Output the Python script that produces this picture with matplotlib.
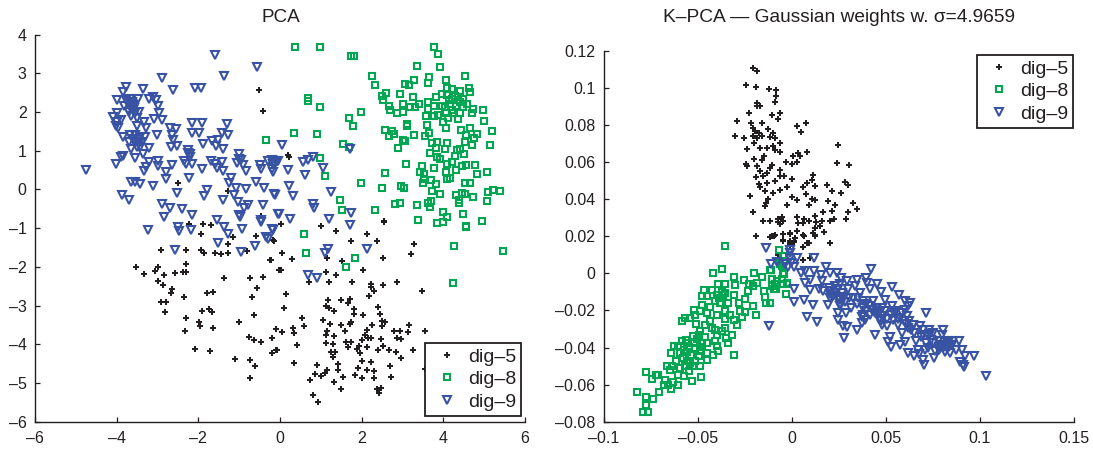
import numpy as np
import matplotlib
matplotlib.use('Agg')
import matplotlib.pyplot as plt

plt.rcParams['font.family'] = ['Liberation Sans', 'DejaVu Sans']

# PCA panel, (x, y)
pca_dig5 = np.array([
    (-3.53,-2.0),(-3.32,-2.19),(-3.06,-2.1),(-2.98,-2.0),(-2.84,-2.2),(-2.57,-2.15),(-2.98,-2.36),(-2.87,-2.47),
    (-2.64,-2.57),(-2.66,-2.68),(-2.91,-2.9),(-2.78,-2.9),(-2.82,-3.16),(-2.36,-2.79),(-2.31,-3.33),(-2.32,-3.66),
    (-2.38,-2.12),(-2.3,-2.14),(-2.29,-1.93),(-2.91,-1.56),(-2.3,-1.57),(-2.22,-.88),(-1.88,-.9),(-1.94,-1.14),
    (-1.69,-.92),(-1.93,-1.57),(-1.86,-1.63),(-1.59,-1.64),(-1.44,-1.67),(-1.28,-1.63),(-1.28,-1.42),(-1.16,-1.24),
    (-1.37,-2.28),(-1.8,-2.67),(-1.63,-2.66),(-1.9,-3.14),(-1.75,-3.1),(-1.66,-3.17),(-1.98,-3.42),(-1.95,-3.54),
    (-1.65,-3.57),(-2.08,-4.11),(-1.72,-4.17),(-1.09,-4.38),(-1.0,-3.43),(-.77,-3.81),(-.64,-3.88),(-.47,-3.94),
    (-.73,-4.41),(-.61,-4.56),(-.73,-4.87),(-.2,-4.22),(-.1,-4.14),(-.2,-3.84),(-.11,-3.6),(-.64,-3.25),
    (-.68,-2.79),(-.56,-2.55),(-.73,-2.28),(-.41,-2.26),(-.24,-1.81),(-.82,-1.59),(-.59,-1.21),(-.15,-1.33),
    (-.02,-2.07),(-.51,2.56),(-.41,2.02),(-2.51,.18),(-1.27,-.04),(-.47,-.68),(.2,.89),(.22,.84),(2.55,-.82),
    (.02,-.9),(1.0,-.95),(1.36,-1.08),(2.13,-1.16),(2.54,-.84),(2.38,-1.32),(1.74,-1.33),(-.16,-1.31),(.04,-1.64),
    (.3,-1.8),(-.22,-1.83),(3.22,-1.67),(3.28,-1.4),(2.52,-1.76),(1.16,-1.76),(1.52,-1.86),(.02,-2.07),(1.13,-2.14),
    (1.36,-2.2),(2.04,-2.09),(.72,-2.4),(1.21,-2.38),(1.77,-2.4),(2.24,-2.43),(2.53,-2.47),(2.86,-2.4),(3.47,-2.62),
    (2.24,-2.52),(2.3,-2.62),(2.17,-2.75),(.14,-2.71),(.1,-3.05),(1.18,-2.86),(1.5,-2.86),(1.71,-2.83),(1.66,-2.92),
    (1.13,-3.01),(1.19,-3.05),(1.32,-3.15),(1.8,-3.1),(1.81,-3.21),(2.03,-3.25),(2.39,-3.03),(2.46,-3.22),(.55,-3.32),
    (.58,-3.52),(1.06,-3.38),(1.23,-3.47),(1.5,-3.51),(1.71,-3.48),(1.74,-3.42),(2.26,-3.5),(2.51,-3.4),(2.57,-3.42),
    (2.51,-3.52),(-.11,-3.61),(.05,-3.69),(.31,-3.59),(.35,-3.7),(-.2,-3.84),(1.14,-3.66),(1.13,-3.75),(1.58,-3.66),
    (1.33,-3.79),(2.13,-3.64),(2.08,-3.77),(2.16,-3.85),(2.24,-3.85),(2.0,-3.9),(2.79,-3.66),(2.94,-3.66),(3.16,-3.5),
    (3.13,-3.69),(3.55,-3.66),(2.86,-3.83),(2.96,-3.86),(2.47,-3.87),(1.13,-3.97),(1.29,-4.0),(1.62,-3.93),(1.74,-3.93),
    (1.66,-4.07),(.42,-4.03),(-.08,-4.14),(-.2,-4.22),(1.94,-4.05),(1.89,-4.11),(2.14,-4.07),(2.41,-4.14),(2.53,-4.05),
    (2.68,-4.16),(2.83,-4.19),(3.25,-4.16),(1.96,-4.22),(1.25,-4.21),(1.35,-4.21),(1.31,-4.34),(2.96,-4.35),(.35,-4.48),
    (.9,-4.53),(1.43,-4.52),(2.02,-4.43),(2.22,-4.47),(2.69,-4.57),(1.92,-4.61),(2.12,-4.67),(2.31,-4.68),(1.43,-4.67),
    (1.14,-4.67),(1.1,-4.74),(.86,-4.77),(1.0,-4.82),(.73,-4.91),(1.55,-4.84),(1.84,-4.8),(2.0,-4.87),(2.29,-4.87),
    (2.73,-4.85),(3.55,-4.65),(1.33,-4.97),(1.49,-5.16),(2.37,-5.15),(2.47,-5.13),(2.42,-5.25),(.82,-5.3),(.94,-5.5),
])

pca_dig8 = np.array([
    (.37,3.69),(.97,3.69),(1.74,3.45),(1.8,3.45),(3.76,3.69),(3.87,3.51),(3.36,3.2),(3.93,3.16),(2.25,2.93),(2.33,2.7),
    (3.27,2.84),(3.66,2.9),(3.62,2.74),(4.07,2.84),(4.52,2.92),(3.06,2.72),(3.16,2.71),(2.6,2.49),(2.51,2.41),(2.53,2.31),
    (2.94,2.47),(3.25,2.38),(3.0,2.22),(2.68,2.16),(2.69,2.05),(2.87,1.98),(3.0,2.01),(3.18,2.12),(3.31,2.12),(3.4,2.2),
    (3.62,2.25),(3.81,2.38),(3.96,2.46),(4.08,2.61),(4.22,2.59),(4.41,2.54),(4.63,2.63),(4.65,2.53),(4.08,2.44),(4.2,2.35),
    (4.37,2.31),(4.16,2.22),(4.49,2.35),(4.57,2.21),(4.47,2.14),(4.73,2.08),(4.98,2.05),(4.69,1.98),(4.41,1.98),(4.24,1.97),
    (4.06,1.97),(3.88,1.92),(3.76,2.17),(3.96,2.16),(3.63,2.07),(3.58,1.9),(3.76,1.9),(4.12,1.84),(4.37,1.81),(4.0,1.75),
    (5.0,1.78),(3.12,1.69),(3.12,1.64),(3.6,1.66),(4.07,1.58),(4.43,1.55),(4.66,1.59),(5.18,1.51),(2.57,1.53),(2.75,1.5),
    (2.8,1.43),(2.66,1.37),(3.28,1.41),(3.65,1.45),(3.56,1.38),(4.55,1.41),(4.83,1.43),(4.76,1.34),(3.02,1.27),(3.07,1.25),
    (3.73,1.21),(3.84,1.23),(4.08,1.21),(4.04,1.04),(4.52,1.23),(4.69,1.16),(5.14,1.16),(2.9,1.06),(3.81,1.06),(3.68,.94),
    (4.33,1.03),(4.42,1.04),(4.51,.93),(4.29,.87),(3.84,.84),(3.93,.78),(4.22,.71),(4.08,.66),(4.45,.61),(4.55,.63),
    (4.77,.63),(3.09,.66),(3.48,.62),(3.76,.56),(4.31,.5),(4.07,.44),(3.44,.44),(3.53,.41),(5.06,.46),(4.83,.41),
    (2.56,.42),(4.16,.31),(4.08,.28),(3.53,.26),(3.71,.24),(3.81,.15),(3.49,.16),(4.54,.16),(4.65,.16),(1.99,.18),
    (2.51,.04),(2.97,.09),(3.04,.03),(3.73,-.05),(3.93,-.11),(4.3,-.13),(4.45,-.09),(4.53,-.12),(4.72,-.2),(5.09,-.06),
    (5.22,-.01),(5.39,-.04),(5.08,-.3),(4.38,-.28),(4.38,-.36),(3.69,-.31),(3.63,-.36),(3.67,-.45),(3.36,-.41),(2.94,-.34),
    (2.82,-.38),(2.33,-.53),(1.47,-.28),(1.52,-.52),(4.0,-.58),(4.47,-.64),(4.1,-.72),(4.95,-.82),(3.98,-.84),(3.84,-.86),
    (3.39,-.79),(4.55,-.95),(.68,2.37),(.68,2.28),(.98,2.13),(1.98,1.99),(1.69,1.85),(1.78,1.65),(.34,1.45),(.9,1.43),
    (1.55,1.17),(1.69,1.1),(.98,.82),(1.09,.35),(.58,-1.16),(.64,-1.64),(1.84,-1.77),(1.62,-2.0),(4.25,-1.45),(5.46,-1.6),
    (4.24,-2.42),(4.55,-.97),(-.34,1.27),(4.28,2.42),(4.14,2.3),(4.3,2.15),(4.42,2.25),(4.22,2.05),(4.35,2.4),(4.05,2.12),
])

pca_dig9 = np.array([
    (-4.76,.5),(-1.58,3.47),(-.56,3.16),(-1.38,2.94),(-2.9,2.87),(-3.78,2.65),(-3.85,2.51),(-3.35,2.6),(-2.62,2.56),
    (-2.07,2.61),(-1.93,2.62),(-4.0,2.31),(-3.22,2.34),(-3.12,2.39),(-3.04,2.31),(-3.47,2.33),(-3.0,2.15),(-2.96,1.97),
    (-3.08,1.83),(-2.9,1.79),(-4.08,1.88),(-3.98,1.98),(-3.9,1.79),(-4.02,1.64),(-3.96,1.58),(-3.84,1.36),(-3.67,2.14),
    (-3.71,2.0),(-3.63,2.27),(-3.6,2.18),(-3.76,2.31),(-3.67,2.35),(-3.82,2.16),(-3.55,1.97),(-3.45,2.0),(-3.51,1.84),
    (-3.33,1.75),(-3.49,1.64),(-3.27,1.58),(-3.67,1.4),(-3.55,1.4),(-3.43,1.36),(-3.31,1.36),(-3.02,1.42),(-3.71,1.23),
    (-3.55,1.19),(-3.39,1.23),(-3.66,1.04),(-3.43,1.1),(-3.21,1.06),(-3.35,.91),(-3.55,.82),(-3.84,.87),(-3.9,.83),
    (-4.02,.67),(-3.21,.7),(-3.27,.59),(-3.32,.48),(-2.98,.73),(-3.0,.62),(-2.65,.63),(-2.78,.44),(-2.78,.28),(-3.65,.2),
    (-3.55,.2),(-3.44,.13),(-3.1,.09),(-3.86,-.15),(-3.69,-.26),(-2.69,1.58),(-2.55,1.56),(-2.64,1.42),(-2.63,1.28),
    (-2.67,1.1),(-2.53,1.13),(-2.15,1.71),(-1.92,1.72),(-2.15,1.47),(-1.98,1.47),(-1.31,1.69),(-1.43,1.45),(-1.27,1.42),
    (-1.88,1.17),(-1.66,1.25),(-1.51,1.28),(-1.57,1.13),(-1.39,1.04),(-2.26,1.02),(-2.2,.91),(-2.34,.74),(-2.15,.67),
    (-2.31,.67),(-2.24,.31),(-1.92,.53),(-1.7,.74),(-1.59,.67),(-1.43,.72),(-1.55,.56),(-1.4,.48),(-1.06,.69),(-1.01,.91),
    (-.9,.63),(-.84,.48),(-1.2,.3),(-1.24,.18),(-1.08,.04),(-.84,.01),(-.59,.2),(-.39,.04),(-.49,.63),(-.47,.54),(-.29,.74),
    (-.16,.67),(-.04,.74),(-.16,.46),(-2.53,-.08),(-2.88,-.38),(-2.69,-.49),(-2.84,-.71),(-2.41,-.51),(-2.15,-.66),
    (-1.8,-.02),(-1.85,-.16),(-1.39,-.28),(-1.12,-.15),(-1.04,-.32),(-.78,-.39),(-.87,-.49),(-1.0,-.65),(-.98,-.72),
    (-.42,-.39),(-.14,-.12),(-.02,-.64),(-.47,-.79),(-1.55,-.79),(.06,1.16),(1.71,1.04),(.82,.83),(.57,.72),(.68,.76),
    (-.07,.74),(-.16,.67),(-.2,.54),(.2,.5),(1.06,.56),(.61,.37),(.23,.1),(.33,-.16),(-.13,-.13),(1.25,-.06),(.82,-.38),
    (.84,-.47),(-.04,-.64),(.24,-.77),(1.21,-.75),(1.74,-.6),(1.71,-.92),(-.18,-1.05),(1.18,-1.53),(1.09,-1.63),(2.14,-1.54),
    (.68,-2.2),(.9,-2.28),(-3.24,-1.04),(-2.51,-.97),(-2.47,-1.08),(-2.18,-1.05),(-2.56,-1.57),(-1.36,-.98),(-1.28,-1.16),
    (-.93,-1.01),(-1.51,-1.37),(-.96,-1.61),(-.61,-1.47),(-.35,-1.24),(-.29,-1.27),(-.19,-1.03),(-.47,-.84),
    (-3.62,2.2),(-3.58,2.1),(-3.7,2.25),(-3.6,2.05),(-3.5,1.3),(-3.45,1.2),(-3.6,1.3),(-2.2,.85),(-2.25,.95),(-1.0,.8),
    (-.95,.75),(-.1,.7),(-.2,.75),(-4.0,1.75),(-3.65,1.9),(-3.5,1.1),
])

# K-PCA panel
kpca_dig5 = np.array([
    (-.0207,.1107),(-.0186,.1094),(-.0243,.1017),(-.019,.1006),(-.0119,.0994),(-.0083,.0988),(-.0083,.0958),(-.0087,.0927),
    (-.0186,.0922),(-.0168,.0904),(-.0186,.0904),(-.0227,.0868),(-.0106,.0854),(-.0062,.0865),(-.0073,.0834),(-.0291,.0825),
    (-.0218,.0809),(-.0158,.0814),(.003,.0796),(.0076,.0814),(.0048,.0764),(-.03,.0741),(-.0254,.0732),(-.0204,.0784),
    (-.0195,.0766),(-.0204,.0739),(-.0177,.0757),(-.016,.0743),(-.0186,.073),(-.0124,.078),(-.0098,.0757),(-.0115,.0734),
    (-.0089,.073),(-.0199,.0703),(-.0062,.0703),(-.0098,.0685),(-.0239,.0673),(-.0168,.0676),(-.0133,.0676),(-.0089,.0664),
    (-.0062,.0655),(.008,.0655),(.0035,.0649),(.0005,.0631),(.0041,.0631),(.0248,.0691),(.0239,.0594),(.0303,.0583),
    (-.0199,.0617),(-.0147,.0631),(-.016,.061),(-.003,.0601),(0,.059),(.003,.0599),(-.0245,.059),(-.0239,.0581),(-.0186,.0581),
    (-.0106,.0587),(-.0115,.0569),(-.0062,.056),(-.0168,.0551),(-.0133,.0542),(-.019,.052),(-.0151,.0524),(-.0062,.0524),
    (-.0044,.0524),(.0002,.0511),(-.0092,.0497),(-.0133,.0488),(-.0177,.0483),(-.0168,.0466),(.0115,.0529),(.0106,.0506),
    (.008,.0488),(.0062,.0466),(.0121,.047),(.0186,.0475),(.0284,.0491),(.0296,.0479),(-.0027,.0465),(-.0062,.0448),
    (-.0098,.0434),(-.0142,.0447),(.0215,.0445),(.0262,.0434),(-.0222,.042),(.0076,.0431),(0,.0411),(.003,.0398),(.0106,.0402),
    (.0124,.0395),(-.0124,.0402),(-.0136,.038),(-.0142,.0362),(-.0027,.0371),(.0089,.0368),(.019,.0393),(.0324,.038),
    (.023,.0368),(.0213,.0335),(.0349,.0346),(.0298,.033),(-.0207,.0332),(.0168,.033),(.0124,.0308),(.003,.0303),(-.0053,.0305),
    (-.0071,.0291),(-.0151,.0282),(-.0115,.0282),(-.0071,.0276),(-.0048,.0282),(-.0062,.0264),(.0035,.0273),(.0066,.0291),
    (.0089,.0282),(.0062,.0273),(.016,.0282),(.0129,.0276),(.0204,.0282),(.0225,.0291),(.0287,.0296),(.0151,.0255),(.0124,.0246),
    (.0172,.0226),(.0027,.023),(-.0009,.0215),(-.0048,.021),(-.019,.0204),(-.0115,.0196),(-.0094,.0201),(.0067,.0204),(.0121,.0206),
    (-.0048,.0179),(-.0009,.0174),(.0009,.0174),(-.0009,.0156),(.0204,.0165),(.0089,.0165),(.0062,.0143),(.0059,.0075),(.0098,.0084),
    (-.0106,.0202),(-.0092,.0205),(-.0048,.0211),(-.0048,.0175),(-.0009,.0216),(.0027,.0229),(-.0009,.0166),(.0009,.0169),
    (.0018,.0193),(.0062,.0205),(.0058,.0142),(.0081,.0162),(.0115,.0216),(.0124,.0202),(.0172,.0225),(.0202,.0166),
    (.0058,.0072),(.0097,.0081),(-.0076,.0097),
])

kpca_dig8 = np.array([
    (-.0353,.015),(-.0069,.0126),(-.0044,.0094),(-.0372,.0025),(-.042,.0004),(-.0307,-.0018),(-.0199,.0004),(-.0156,-.0018),
    (-.0112,.0018),(-.0053,.004),(-.0062,.0058),(-.0044,-.0005),(-.0106,-.0029),(-.008,-.0041),(-.0106,-.0068),(-.0083,-.0086),
    (-.005,-.0032),(-.0027,-.005),(-.0032,-.011),(-.0147,-.0095),(-.0142,-.0126),(-.0138,-.0162),(-.0115,-.0162),(-.0254,-.0036),
    (-.023,-.0059),(-.0234,-.0095),(-.0186,-.005),(-.0204,-.0068),(-.0301,-.0065),(-.0355,-.0059),(-.039,-.0059),(-.0426,-.009),
    (-.0465,-.0092),(-.0477,-.0123),(-.0452,-.0123),(-.0355,-.0104),(-.031,-.0114),(-.0399,-.0114),(-.0378,-.0132),(-.0408,-.015),
    (-.0381,-.0159),(-.0337,-.0162),(-.0282,-.0159),(-.0248,-.0137),(-.0209,-.0177),(-.0191,-.0223),(-.0353,-.0204),(-.0434,-.018),
    (-.0479,-.0173),(-.0518,-.0195),(-.0488,-.0204),(-.0452,-.0213),(-.0399,-.0227),(-.0328,-.0222),(-.0275,-.0204),(-.0248,-.0209),
    (-.0266,-.0234),(-.031,-.0249),(-.0355,-.0245),(-.0585,-.0258),(-.0567,-.024),(-.0541,-.024),(-.0514,-.0227),(-.0509,-.0272),
    (-.0461,-.0276),(-.0434,-.0258),(-.0293,-.0276),(-.0488,-.0309),(-.0426,-.0297),(-.0408,-.0303),(-.0355,-.0294),(-.0372,-.0312),
    (-.0399,-.033),(-.0316,-.033),(-.0351,-.0348),(-.0337,-.0375),(-.0305,-.0438),(-.0527,-.0339),(-.0496,-.033),(-.0585,-.0366),
    (-.0626,-.0389),(-.0603,-.0393),(-.0559,-.0375),(-.0518,-.0378),(-.0479,-.0375),(-.0452,-.0378),(-.0408,-.0366),(-.0399,-.0393),
    (-.0642,-.0429),(-.0594,-.0429),(-.0559,-.0425),(-.0514,-.0402),(-.0488,-.042),(-.0452,-.0429),(-.042,-.0438),(-.0394,-.042),
    (-.0496,-.0447),(-.0452,-.0465),(-.0514,-.0474),(-.058,-.0456),(-.0541,-.0483),(-.0488,-.0501),(-.0594,-.051),(-.0567,-.0501),
    (-.0665,-.0497),(-.0638,-.0501),(-.0647,-.0523),(-.0603,-.0546),(-.0573,-.0555),(-.0544,-.0528),(-.0482,-.0559),(-.0528,-.0582),
    (-.0605,-.0604),(-.0633,-.0587),(-.0656,-.0604),(-.0679,-.06),(-.0674,-.0573),(-.0642,-.0623),(-.0709,-.055),(-.0723,-.055),
    (-.0741,-.0571),(-.0773,-.0532),(-.0707,-.0641),(-.0736,-.0676),(-.0777,-.0668),(-.0823,-.0641),(-.0777,-.0708),(-.0791,-.0746),
    (-.0766,-.0746),(-.0048,.0094),(-.0041,.0067),(-.0062,.0049),(-.0115,.0018),(-.0048,-.0005),(-.0027,-.0055),(-.0103,-.0029),
    (-.0088,-.0059),(-.0097,-.0086),(-.0048,-.0059),(-.0565,-.036),(-.0545,-.0395),(-.0505,-.0355),(-.0575,-.0415),(-.0535,-.044),
    (-.0462,-.0345),(-.0475,-.0398),(-.0555,-.0475),(-.0525,-.0498),(-.0615,-.0475),(-.0385,-.0135),(-.0365,-.0115),(-.037,-.0098),
])

kpca_dig9 = np.array([
    (-.0138,.0135),(-.0012,.0124),(-.0009,.0108),(-.0009,.0085),(-.0005,.0058),(-.0018,.0036),(.0009,.0036),(-.0035,.0049),
    (.0027,.0085),(.012,.0085),(-.008,.0063),(-.0111,.0049),(.018,.0036),(.0423,.0025),(.005,0),(.0071,.0013),(.012,.0013),
    (.0154,-.0011),(.0203,0),(.0239,0),(.0262,-.0023),(.0292,-.0041),(.0345,-.0036),(.0395,-.0023),(.0451,-.0059),(.0533,-.0072),
    (.0071,-.005),(.0097,-.0038),(.0097,-.009),(.0159,-.0041),(.0147,-.0083),(.0168,-.0095),(.0009,-.0086),(.0195,-.0077),
    (.023,-.0068),(.0257,-.0059),(.0203,-.0113),(.023,-.0104),(.0265,-.0104),(.0301,-.0086),(.0336,-.0068),(.0363,-.0104),
    (.0398,-.005),(.0416,-.0086),(.0472,-.0101),(.057,-.0119),(.0009,-.0155),(.0067,-.0141),(.0115,-.0168),(.008,-.0234),
    (.0136,-.0261),(-.012,-.0285),(.0191,-.0168),(.0257,-.0141),(.0257,-.0177),(.0288,-.0213),(.0313,-.0186),(.0248,-.0216),
    (.0248,-.0249),(.0274,-.0285),(.0295,-.0288),(.0278,-.0348),(.0345,-.0303),(.0327,-.0132),(.038,-.015),(.0433,-.015),
    (.0495,-.0141),(.0531,-.0177),(.038,-.0186),(.038,-.0222),(.0389,-.0249),(.0372,-.0267),(.0451,-.0186),(.0478,-.0186),
    (.046,-.0222),(.0487,-.0231),(.0478,-.0276),(.0504,-.0285),(.0442,-.0333),(.0602,-.015),(.0628,-.0159),(.0602,-.0195),
    (.0611,-.0231),(.054,-.0249),(.0575,-.024),(.0566,-.0276),(.0584,-.0321),(.0522,-.0342),(.0513,-.0371),(.0527,-.0398),
    (.0575,-.0384),(.0602,-.0369),(.0715,-.0216),(.0646,-.0276),(.0681,-.0281),(.0619,-.0294),(.0649,-.0321),(.0658,-.0366),
    (.0699,-.033),(.0731,-.0303),(.0752,-.0321),(.0805,-.0303),(.0796,-.033),(.0738,-.0357),(.0748,-.0375),(.0616,-.0432),
    (.0649,-.0443),(.0672,-.0411),(.0708,-.0414),(.0699,-.0468),(.0702,-.0492),(.0761,-.042),(.0757,-.0456),(.0796,-.0384),
    (.0832,-.0375),(.0849,-.0384),(.0805,-.0402),(.0823,-.0402),(.084,-.0432),(.0888,-.0366),(.0872,-.0414),(.0902,-.0414),
    (.092,-.0447),(.0968,-.0445),(.0893,-.0479),(.0911,-.0492),(.0915,-.0505),(.1031,-.0551),(.022,-.012),(.0245,-.0135),
    (.0285,-.0155),(.035,-.013),(.041,-.0175),(.0425,-.02),(.044,-.0215),(.0465,-.0245),(.0495,-.0205),(.0525,-.0225),
    (.0555,-.0205),(.0585,-.0215),(.0595,-.0255),(.0625,-.0255),(.0695,-.0305),(.0725,-.0335),(.0715,-.0375),(.0785,-.0395),
    (.0815,-.0385),(.0835,-.0395),(.0395,-.0205),(.0375,-.0235),(.0565,-.0245),(.0205,-.0135),
    (.021,-.0095),(.0245,-.0085),(.0275,-.0125),(.0255,-.0165),(.0305,-.0135),(.0345,-.0165),(.0395,-.0165),(.0415,-.0225),
    (.0455,-.0205),(.0475,-.0255),(.0505,-.0245),(.0545,-.0215),(.0615,-.0175),(.0605,-.0275),(.0635,-.0305),(.0685,-.0345),
    (.0735,-.0325),(.0775,-.0365),(.0825,-.0365),(.0855,-.0365),(.0815,-.0425),(.0725,-.0405),(.0675,-.0435),(.0785,-.0415),
])

pca_xticks = [-6, -4, -2, 0, 2, 4, 6]
pca_xlabels = ['–6', '–4', '–2', '0', '2', '4', '6']
pca_yticks = [-6, -5, -4, -3, -2, -1, 0, 1, 2, 3, 4]
pca_ylabels = ['–6', '–5', '–4', '–3', '–2', '–1', '0', '1', '2', '3', '4']
kpca_xticks = [-0.1, -0.05, 0, 0.05, 0.1, 0.15]
kpca_xlabels = ['–0.1', '–0.05', '0', '0.05', '0.1', '0.15']
kpca_yticks = [-0.08, -0.06, -0.04, -0.02, 0, 0.02, 0.04, 0.06, 0.08, 0.1, 0.12]
kpca_ylabels = ['–0.08', '–0.06', '–0.04', '–0.02', '0', '0.02', '0.04', '0.06', '0.08', '0.1', '0.12']
series_names = ['dig–5', 'dig–8', 'dig–9']

INK = '#231f20'
W, H = 1093, 449


def draw(ax, d5, d8, d9):
    ax.plot(d5[:, 0], d5[:, 1], '+', color=INK, ms=5, mew=1.45, label=series_names[0])
    ax.plot(d8[:, 0], d8[:, 1], 's', mfc='none', mec='#00a651', ms=4.4, mew=1.5, label=series_names[1])
    ax.plot(d9[:, 0], d9[:, 1], 'v', mfc='none', mec='#3953a4', ms=6.4, mew=1.5, label=series_names[2])
    ax.spines['top'].set_visible(False)
    ax.spines['right'].set_visible(False)
    ax.spines['left'].set_linewidth(1.0)
    ax.spines['bottom'].set_linewidth(1.0)
    ax.spines['left'].set_color(INK)
    ax.spines['bottom'].set_color(INK)
    ax.tick_params(direction='in', length=3.5, width=0.9, color=INK, labelcolor=INK, labelsize=11.5)
    ax.tick_params(axis='x', pad=7)
    ax.tick_params(axis='y', pad=6)


fig = plt.figure(figsize=(W / 100, H / 100), dpi=100)
ax1 = fig.add_axes([35 / W, (H - 421.7) / H, 490 / W, 387 / H])
ax2 = fig.add_axes([603.7 / W, (H - 421.7) / H, 470.3 / W, 370.7 / H])

draw(ax1, pca_dig5, pca_dig8, pca_dig9)
ax1.set_xlim(-6, 6)
ax1.set_ylim(-6, 4)
ax1.set_xticks(pca_xticks, pca_xlabels)
ax1.set_yticks(pca_yticks, pca_ylabels)
fig.text(281 / W, (H - 17) / H, 'PCA', ha='center', va='center', fontsize=13.6, color=INK)

draw(ax2, kpca_dig5, kpca_dig8, kpca_dig9)
ax2.set_xlim(-0.1, 0.15)
ax2.set_ylim(-0.08, 0.12)
ax2.set_xticks(kpca_xticks, kpca_xlabels)
ax2.set_yticks(kpca_yticks, kpca_ylabels)
fig.text(839 / W, (H - 17) / H, 'K–PCA — Gaussian weights w. σ=4.9659', ha='center', va='center', fontsize=13.8, color=INK)

# legends, anchored in axes coordinates
for ax, x0, y0 in [(ax1, (425 - 35) / 490, (421.7 - 416) / 387), (ax2, (977 - 603.7) / 470.3, (421.7 - 128) / 370.7)]:
    leg = ax.legend(loc='lower left', bbox_to_anchor=(x0, y0), borderaxespad=0, fontsize=14,
                    fancybox=False, framealpha=1, edgecolor=INK, labelcolor=INK, numpoints=1,
                    handlelength=1.75, handletextpad=0.2, borderpad=0.26, labelspacing=0.26)
    leg.get_frame().set_linewidth(1.3)

fig.savefig('out.png', dpi=100)
